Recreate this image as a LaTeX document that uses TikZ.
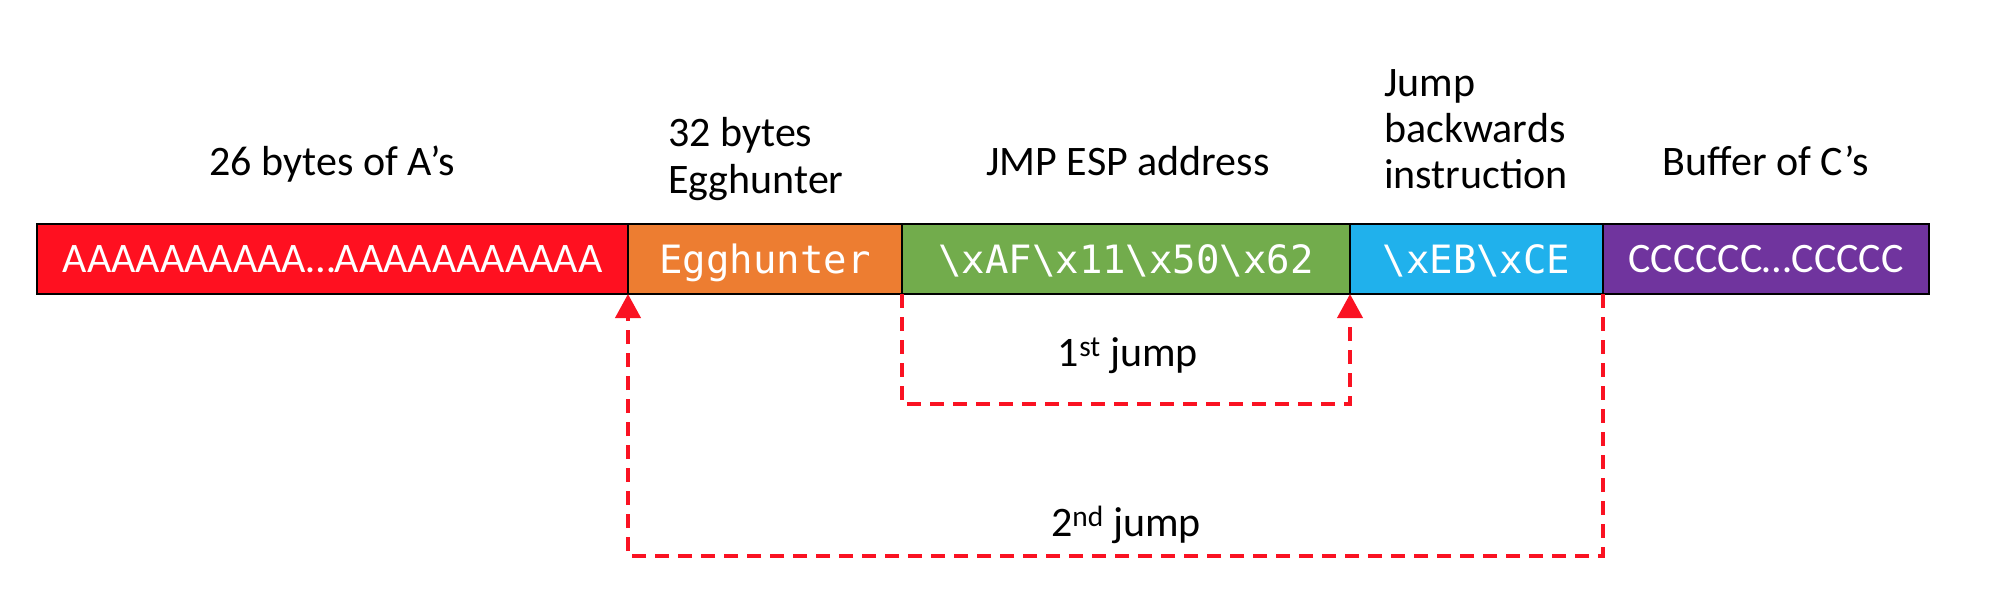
\documentclass[tikz,border=0pt]{standalone}
\usepackage{fontspec}
\setmainfont{Carlito}
\newfontfamily\monof{DejaVu Sans Mono}
\usetikzlibrary{arrows.meta}
\definecolor{cRed}{RGB}{255,16,32}
\definecolor{cOrange}{RGB}{237,125,49}
\definecolor{cGreen}{RGB}{114,172,76}
\definecolor{cBlue}{RGB}{32,177,236}
\definecolor{cPurple}{RGB}{112,52,158}
\definecolor{cLine}{RGB}{250,18,34}
\begin{document}
\begin{tikzpicture}[x=1pt,y=-1pt,
  cell/.style={draw=black, line width=2pt, minimum height=70pt, inner sep=0pt, outer sep=0pt, text=white, anchor=west},
  celltxt/.style={font=\fontsize{42}{50}\selectfont, text height=27pt, text depth=0pt},
  cellmono/.style={font=\fontsize{39}{47}\monof, text height=28pt, text depth=0pt},
  lbl/.style={font=\fontsize{42}{50}\selectfont, inner sep=0pt, anchor=base},
  lblw/.style={lbl, anchor=base west},
  jump/.style={draw=cLine, line width=4pt, dash pattern=on 14pt off 9pt, -{Triangle[width=25pt,length=24pt]}}]
\useasboundingbox (0,0) rectangle (1990,616);
% bar cells
\node[cell, fill=cRed, celltxt, minimum width=591pt] (red) at (37,259) {AAAAAAAAAA…AAAAAAAAAAA};
\node[cell, fill=cOrange, cellmono, minimum width=274pt] (egg) at (red.east) {Egghunter};
\node[cell, fill=cGreen, cellmono, minimum width=448pt] (green) at (egg.east) {\textbackslash xAF\textbackslash x11\textbackslash x50\textbackslash x62};
\node[cell, fill=cBlue, cellmono, minimum width=253pt] (blue) at (green.east) {\textbackslash xEB\textbackslash xCE};
\node[cell, fill=cPurple, celltxt, minimum width=326pt] (purple) at (blue.east) {CCCCCC…CCCCC};
% labels above
\node[lbl] (lA) at (332,175) {26 bytes of A’s};
\node[lblw] (lE1) at (668,146) {32 bytes};
\node[lblw] (lE2) at (668,193) {Egghunter};
\node[lbl] (lJ) at (1128,175) {JMP ESP address};
\node[lblw] (lB1) at (1384,96) {Jump};
\node[lblw] (lB2) at (1384,142) {backwards};
\node[lblw] (lB3) at (1384,188) {instruction};
\node[lbl] (lC) at (1766,175) {Buffer of C’s};
% jumps
\draw[jump] (green.south west) -- ++(0,110) -| (green.south east);
\draw[jump] (blue.south east) -- ++(0,262) -| (red.south east);
\node[lbl] (j1) at (1128,366) {1\textsuperscript{st} jump};
\node[lbl] (j2) at (1126,536) {2\textsuperscript{nd} jump};
\end{tikzpicture}
\end{document}
